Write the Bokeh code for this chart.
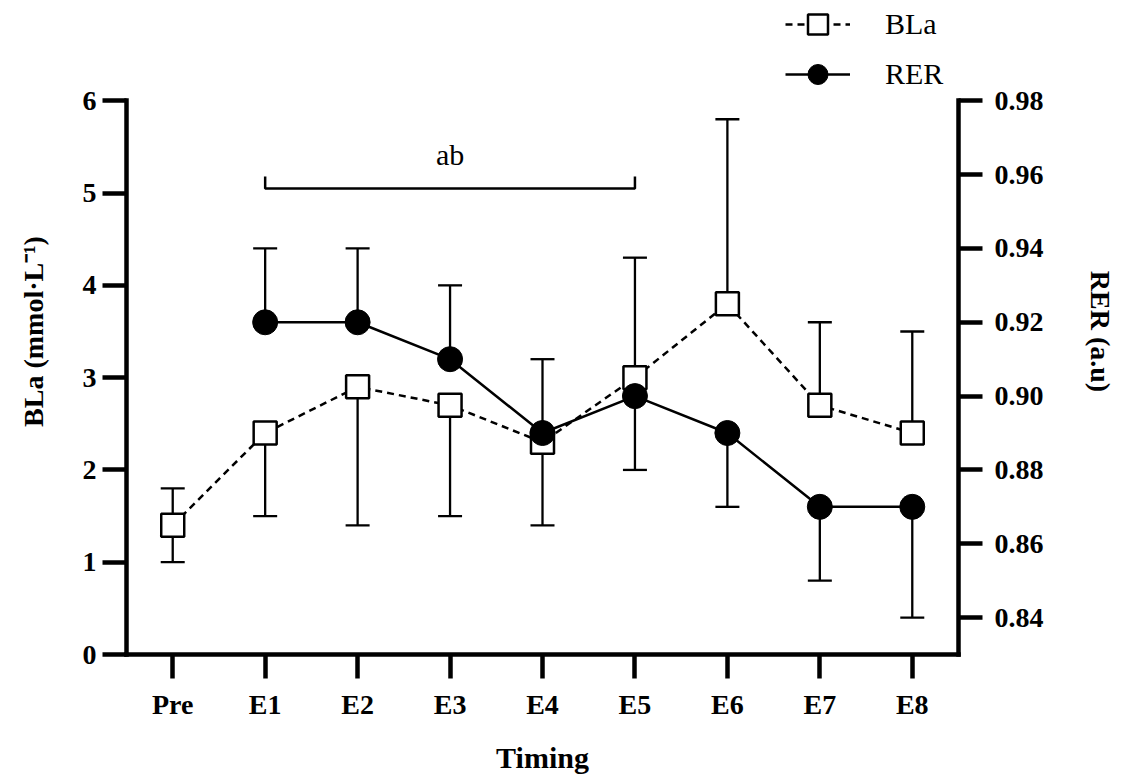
from bokeh.plotting import figure
from bokeh.models import (FactorRange, Range1d, LinearAxis, FixedTicker, Legend,
                          LegendItem, NumeralTickFormatter)
from bokeh.core.properties import value
from bokeh.embed import file_html
from bokeh.resources import INLINE

# ---------------- data ----------------
categories = ["Pre", "E1", "E2", "E3", "E4", "E5", "E6", "E7", "E8"]

bla = [1.4, 2.4, 2.9, 2.7, 2.3, 3.0, 3.8, 2.7, 2.4]
bla_err_low = [1.0, 1.5, 1.4, 1.5, 1.4, None, None, None, None]
bla_err_high = [1.8, None, None, None, None, 4.3, 5.8, 3.6, 3.5]

rer_categories = ["E1", "E2", "E3", "E4", "E5", "E6", "E7", "E8"]
rer = [0.92, 0.92, 0.91, 0.89, 0.90, 0.89, 0.87, 0.87]
rer_err_high = [0.94, 0.94, 0.93, 0.91, None, None, None, None]
rer_err_low = [None, None, None, None, 0.88, 0.87, 0.85, 0.84]

bla_ticks = [0, 1, 2, 3, 4, 5, 6]
rer_ticks = [0.84, 0.86, 0.88, 0.90, 0.92, 0.94, 0.96, 0.98]

bracket_from, bracket_to = "E1", "E5"
bracket_level, bracket_top = 5.05, 5.18
bracket_label = "ab"
bracket_label_cat, bracket_label_y = "E3", 5.42

# ---------------- figure ----------------
SERIF = "Liberation Serif"
Y_END = 7.0
RER_START = 0.83
RER_PER_UNIT = 0.025  # RER units per BLa unit on the shared frame

p = figure(width=1118, height=780, x_range=FactorRange(*categories, range_padding=0),
           y_range=Range1d(0, Y_END), output_backend="svg", toolbar_location=None,
           min_border_left=126, min_border_right=160, min_border_top=8,
           min_border_bottom=126)
p.extra_y_ranges = {"rer": Range1d(RER_START, RER_START + Y_END * RER_PER_UNIT)}
p.outline_line_color = None
p.xgrid.visible = False
p.ygrid.visible = False
p.background_fill_color = "white"
p.border_fill_color = "white"

def style_axis(ax, label_size="28px"):
    ax.axis_line_width = 4.5
    ax.axis_line_color = "black"
    ax.axis_line_cap = "square"
    ax.major_tick_line_width = 4.5
    ax.major_tick_line_color = "black"
    ax.major_tick_out = 24
    ax.major_tick_in = 0
    ax.minor_tick_line_color = None
    ax.major_label_text_font = SERIF
    ax.major_label_text_font_style = "bold"
    ax.major_label_text_font_size = label_size
    ax.major_label_text_color = "black"
    ax.axis_label_text_font = SERIF
    ax.axis_label_text_font_style = "bold"
    ax.axis_label_text_color = "black"

# bottom axis
xa = p.xaxis[0]
style_axis(xa)
xa.axis_label = "Timing"
xa.axis_label_text_font_size = "30px"
xa.major_label_standoff = 10
xa.axis_label_standoff = 18

# left axis
ya = p.yaxis[0]
style_axis(ya)
ya.ticker = FixedTicker(ticks=bla_ticks)
ya.bounds = (0, 6)
ya.axis_label = "BLa (mmol·L⁻¹)"
ya.axis_label_text_font_size = "28px"
ya.major_label_standoff = 6
ya.axis_label_standoff = 31

# right axis
ra = LinearAxis(y_range_name="rer", ticker=FixedTicker(ticks=rer_ticks),
                formatter=NumeralTickFormatter(format="0.00"), bounds=(RER_START, 0.98))
style_axis(ra)
ra.axis_label = "RER (a.u)"
ra.axis_label_text_font_size = "28px"
ra.major_label_standoff = 12
ra.axis_label_standoff = 38
p.add_layout(ra, "right")

# ---------------- error bars ----------------
def error_parts(cats, means, lows, highs):
    x, y0, y1 = [], [], []
    for c, m, lo, hi in zip(cats, means, lows, highs):
        if lo is not None:
            x.append(c); y0.append(m); y1.append(lo)
        if hi is not None:
            x.append(c); y0.append(m); y1.append(hi)
    return x, y0, y1

bx, by0, by1 = error_parts(categories, bla, bla_err_low, bla_err_high)
p.segment(x0=bx, y0=by0, x1=bx, y1=by1, line_color="black", line_width=2.3)
p.scatter(x=bx, y=by1, marker="dash", size=24, line_color="black", line_width=2.3)

# BLa series
bla_line = p.line(categories, bla, line_color="black", line_width=2.5, line_dash="7 5")
bla_pts = p.scatter(categories, bla, marker="square", size=23, fill_color="white",
                    line_color="black", line_width=2.5)

rx, ry0, ry1 = error_parts(rer_categories, rer, rer_err_low, rer_err_high)
p.segment(x0=rx, y0=ry0, x1=rx, y1=ry1, line_color="black", line_width=2.3,
          y_range_name="rer")
p.scatter(x=rx, y=ry1, marker="dash", size=24, line_color="black", line_width=2.3,
          y_range_name="rer")

# RER series
rer_line = p.line(rer_categories, rer, line_color="black", line_width=2.5, y_range_name="rer")
rer_pts = p.scatter(rer_categories, rer, marker="circle", size=25, fill_color="black",
                    line_color="black", y_range_name="rer")

# ---------------- significance bracket ----------------
p.line([bracket_from, bracket_from, bracket_to, bracket_to],
       [bracket_top, bracket_level, bracket_level, bracket_top],
       line_color="black", line_width=2.5)
p.text(x=[bracket_label_cat], y=[bracket_label_y], text=[bracket_label],
       text_font=value(SERIF), text_font_size="30px", text_align="center",
       text_baseline="middle", text_color="black")

# ---------------- legend ----------------
legend = Legend(items=[LegendItem(label="BLa", renderers=[bla_line, bla_pts]),
                       LegendItem(label="RER", renderers=[rer_line, rer_pts])],
                location=(659, 555), orientation="vertical",
                glyph_width=65, glyph_height=50, label_height=50, spacing=-6,
                label_standoff=35, padding=0, margin=0,
                border_line_color=None, background_fill_alpha=0,
                label_text_font=SERIF, label_text_font_size="30px",
                label_text_color="black")
p.add_layout(legend)

open("out.html", "w").write(file_html(p, INLINE))
